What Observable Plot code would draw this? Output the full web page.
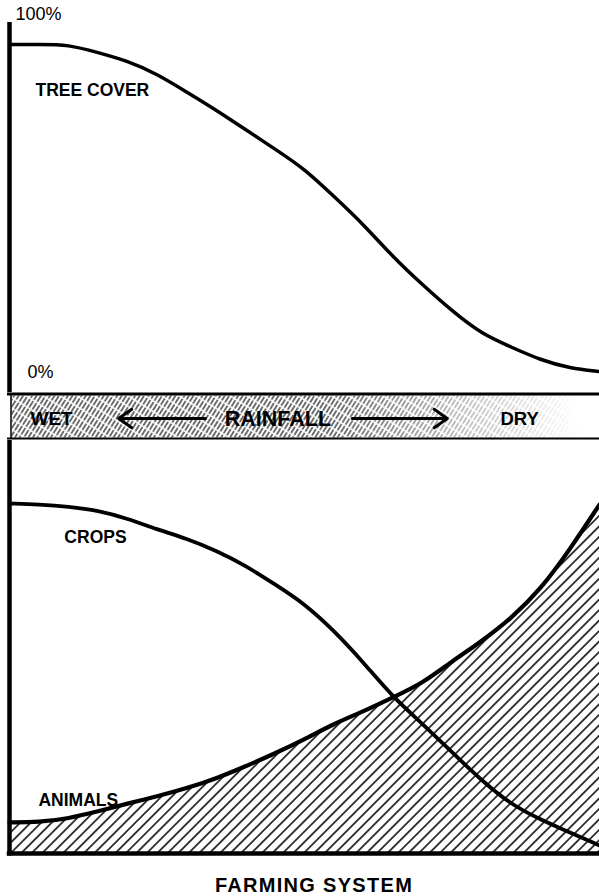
<!DOCTYPE html>
<html><head><meta charset="utf-8">
<script src="https://cdn.jsdelivr.net/npm/d3@7"></script>
<script src="https://cdn.jsdelivr.net/npm/@observablehq/plot@0.6"></script>
<style>
html,body{margin:0;padding:0;background:#fff;overflow:hidden}
#chart{position:relative;width:599px;height:896px}
#chart svg{display:block}
#caption{position:absolute;left:114px;width:400px;top:875px;text-align:center;font:bold 20px "Liberation Sans",Arial,sans-serif;line-height:20px;letter-spacing:1.3px;color:#000}
</style></head><body>
<div id="chart"></div>
<script>
// ---- data (position along the rainfall gradient, wet = 0 .. dry = 100) ----
const position  = [0,5,10,15,20,25,30,35,40,45,50,55,60,65,70,75,80,85,90,95,100];
const treeCover = [100,100,100,97.5,95,91,85.5,80,74,68,62,53.5,45,35,26.5,18.5,11.5,7.5,3.5,1,0];
const crops     = [100,99.7,99.1,98,95.7,92.6,90,86.6,82.3,76.9,71.4,63.7,54.6,44.6,37.1,28.9,20.9,14,9.7,6,2.3];
const animals   = [8.9,8.9,10,12,14.3,16.3,18.6,21.4,24.9,28.6,32.6,37.1,40.6,44.6,48.6,54.9,60.6,67.1,75.4,86.9,99.7];
const scaleLabels    = ["100%","0%"];
const seriesLabels   = ["TREE COVER","CROPS","ANIMALS"];
const rainfallLabels = ["WET","RAINFALL","DRY"];
const rainfallArrows = [[33.2,18.5],[58.1,74.2]]; // from -> to along gradient
const caption = "FARMING SYSTEM";

const W = 599;
const FONT = "Liberation Sans, Arial, Helvetica, sans-serif";
const CURVE = "basis";
const treeData = position.map((p,i)=>({pos:p, value:treeCover[i]}));
const farmData = position.map((p,i)=>({pos:p, crops:crops[i], animals:animals[i]}));
const NS = "http://www.w3.org/2000/svg";
function addDefs(svg, html){
  const defs = document.createElementNS(NS,"defs");
  defs.innerHTML = html;
  svg.insertBefore(defs, svg.firstChild);
}
const lbl = (txt, o) => Plot.text([txt], {text:d=>d, fontFamily:FONT, fill:"#000", textAnchor:"start", lineAnchor:"middle", ...o});

// ---- top panel: tree cover ----
const topPlot = Plot.plot({
  width: W, height: 392,
  marginLeft: 9, marginRight: 0, marginTop: 44, marginBottom: 21,
  x: {domain:[0,100], axis:null},
  y: {domain:[0,100], axis:null},
  style: {background:"transparent", overflow:"visible"},
  marks: [
    Plot.line(treeData, {x:"pos", y:"value", stroke:"#000", strokeWidth:3.5, curve:CURVE, strokeLinecap:"round"}),
    Plot.ruleX([0], {stroke:"#000", strokeWidth:4.5, insetTop:-22, insetBottom:-21}),
    lbl(scaleLabels[0], {x:1, y:109.4, fontSize:18}),
    lbl(scaleLabels[1], {x:3.05, y:-0.2, fontSize:18}),
    lbl(seriesLabels[0], {x:4.4, y:86.1, fontSize:17.5, fontWeight:"bold"})
  ]
});

// ---- middle band: rainfall ----
const bandPlot = Plot.plot({
  width: W, height: 48,
  marginLeft: 9, marginRight: 0, marginTop: 1.5, marginBottom: 2,
  x: {domain:[0,100], axis:null},
  y: {domain:[0,1], axis:null},
  style: {background:"transparent", overflow:"visible"},
  marks: [
    Plot.frame({fill:"url(#bandHatch)", stroke:null, insetTop:1.5, insetBottom:1, insetLeft:2}),
    Plot.ruleY([1], {stroke:"#000", strokeWidth:3, insetLeft:-2}),
    Plot.ruleY([0], {stroke:"#000", strokeWidth:2.2, insetLeft:-2}),
    Plot.ruleX([0], {stroke:"#000", strokeWidth:1.5, dx:1.5}),
    Plot.arrow(rainfallArrows, {x1:d=>d[0], x2:d=>d[1], y1:0.45, y2:0.45, stroke:"#000", strokeWidth:3, headLength:8, headAngle:70}),
    lbl(rainfallLabels[0], {x:3.56, y:0.43, fontSize:19, fontWeight:"bold"}),
    lbl(rainfallLabels[1], {x:45.5, y:0.43, fontSize:21.5, fontWeight:"bold", textAnchor:"middle"}),
    lbl(rainfallLabels[2], {x:83.2, y:0.43, fontSize:18.5, fontWeight:"bold"})
  ]
});
addDefs(bandPlot, `
  <pattern id="bandHatch" patternUnits="userSpaceOnUse" width="3.8" height="9" patternTransform="rotate(32)">
    <line x1="1.9" y1="0" x2="1.9" y2="9" stroke="#000" stroke-width="1.1" stroke-dasharray="6.5 1.5"/>
  </pattern>
  <linearGradient id="bandGrad" gradientUnits="userSpaceOnUse" x1="330" y1="0" x2="580" y2="0">
    <stop offset="0" stop-color="#fff" stop-opacity="1"/>
    <stop offset="0.5" stop-color="#fff" stop-opacity="0.45"/>
    <stop offset="1" stop-color="#fff" stop-opacity="0"/>
  </linearGradient>
  <mask id="bandFade" maskUnits="userSpaceOnUse" x="0" y="0" width="${W}" height="48">
    <rect x="0" y="0" width="${W}" height="48" fill="url(#bandGrad)"/>
  </mask>`);
const fr = bandPlot.querySelector('[aria-label="frame"]');
if (fr) fr.setAttribute("mask","url(#bandFade)");

// ---- bottom panel: farming system ----
const botPlot = Plot.plot({
  width: W, height: 420,
  marginLeft: 9, marginRight: 0, marginTop: 63, marginBottom: 7,
  x: {domain:[0,100], axis:null},
  y: {domain:[0,100], axis:null},
  style: {background:"transparent", overflow:"visible"},
  marks: [
    Plot.areaY(farmData, {x:"pos", y:"animals", fill:"url(#hatch)", curve:CURVE}),
    Plot.line(farmData, {x:"pos", y:"crops", stroke:"#000", strokeWidth:3.8, curve:CURVE, strokeLinecap:"round"}),
    Plot.line(farmData, {x:"pos", y:"animals", stroke:"#000", strokeWidth:4.2, curve:CURVE, strokeLinecap:"round"}),
    Plot.ruleX([0], {stroke:"#000", strokeWidth:4.5, insetTop:-63, insetBottom:-2.5}),
    Plot.ruleY([0], {stroke:"#000", strokeWidth:4.5, insetLeft:-2.25}),
    lbl(seriesLabels[1], {x:9.3, y:90.4, fontSize:17.5, fontWeight:"bold"}),
    lbl(seriesLabels[2], {x:4.9, y:15.3, fontSize:17.5, fontWeight:"bold"})
  ]
});
addDefs(botPlot, `
  <pattern id="hatch" patternUnits="userSpaceOnUse" width="7.4" height="10" patternTransform="rotate(45)">
    <line x1="3.7" y1="0" x2="3.7" y2="10" stroke="#000" stroke-width="1.5"/>
  </pattern>`);

const chart = document.getElementById("chart");
chart.append(topPlot, bandPlot, botPlot);
const cap = document.createElement("div");
cap.id = "caption";
cap.textContent = caption;
chart.append(cap);
</script>
</body></html>
